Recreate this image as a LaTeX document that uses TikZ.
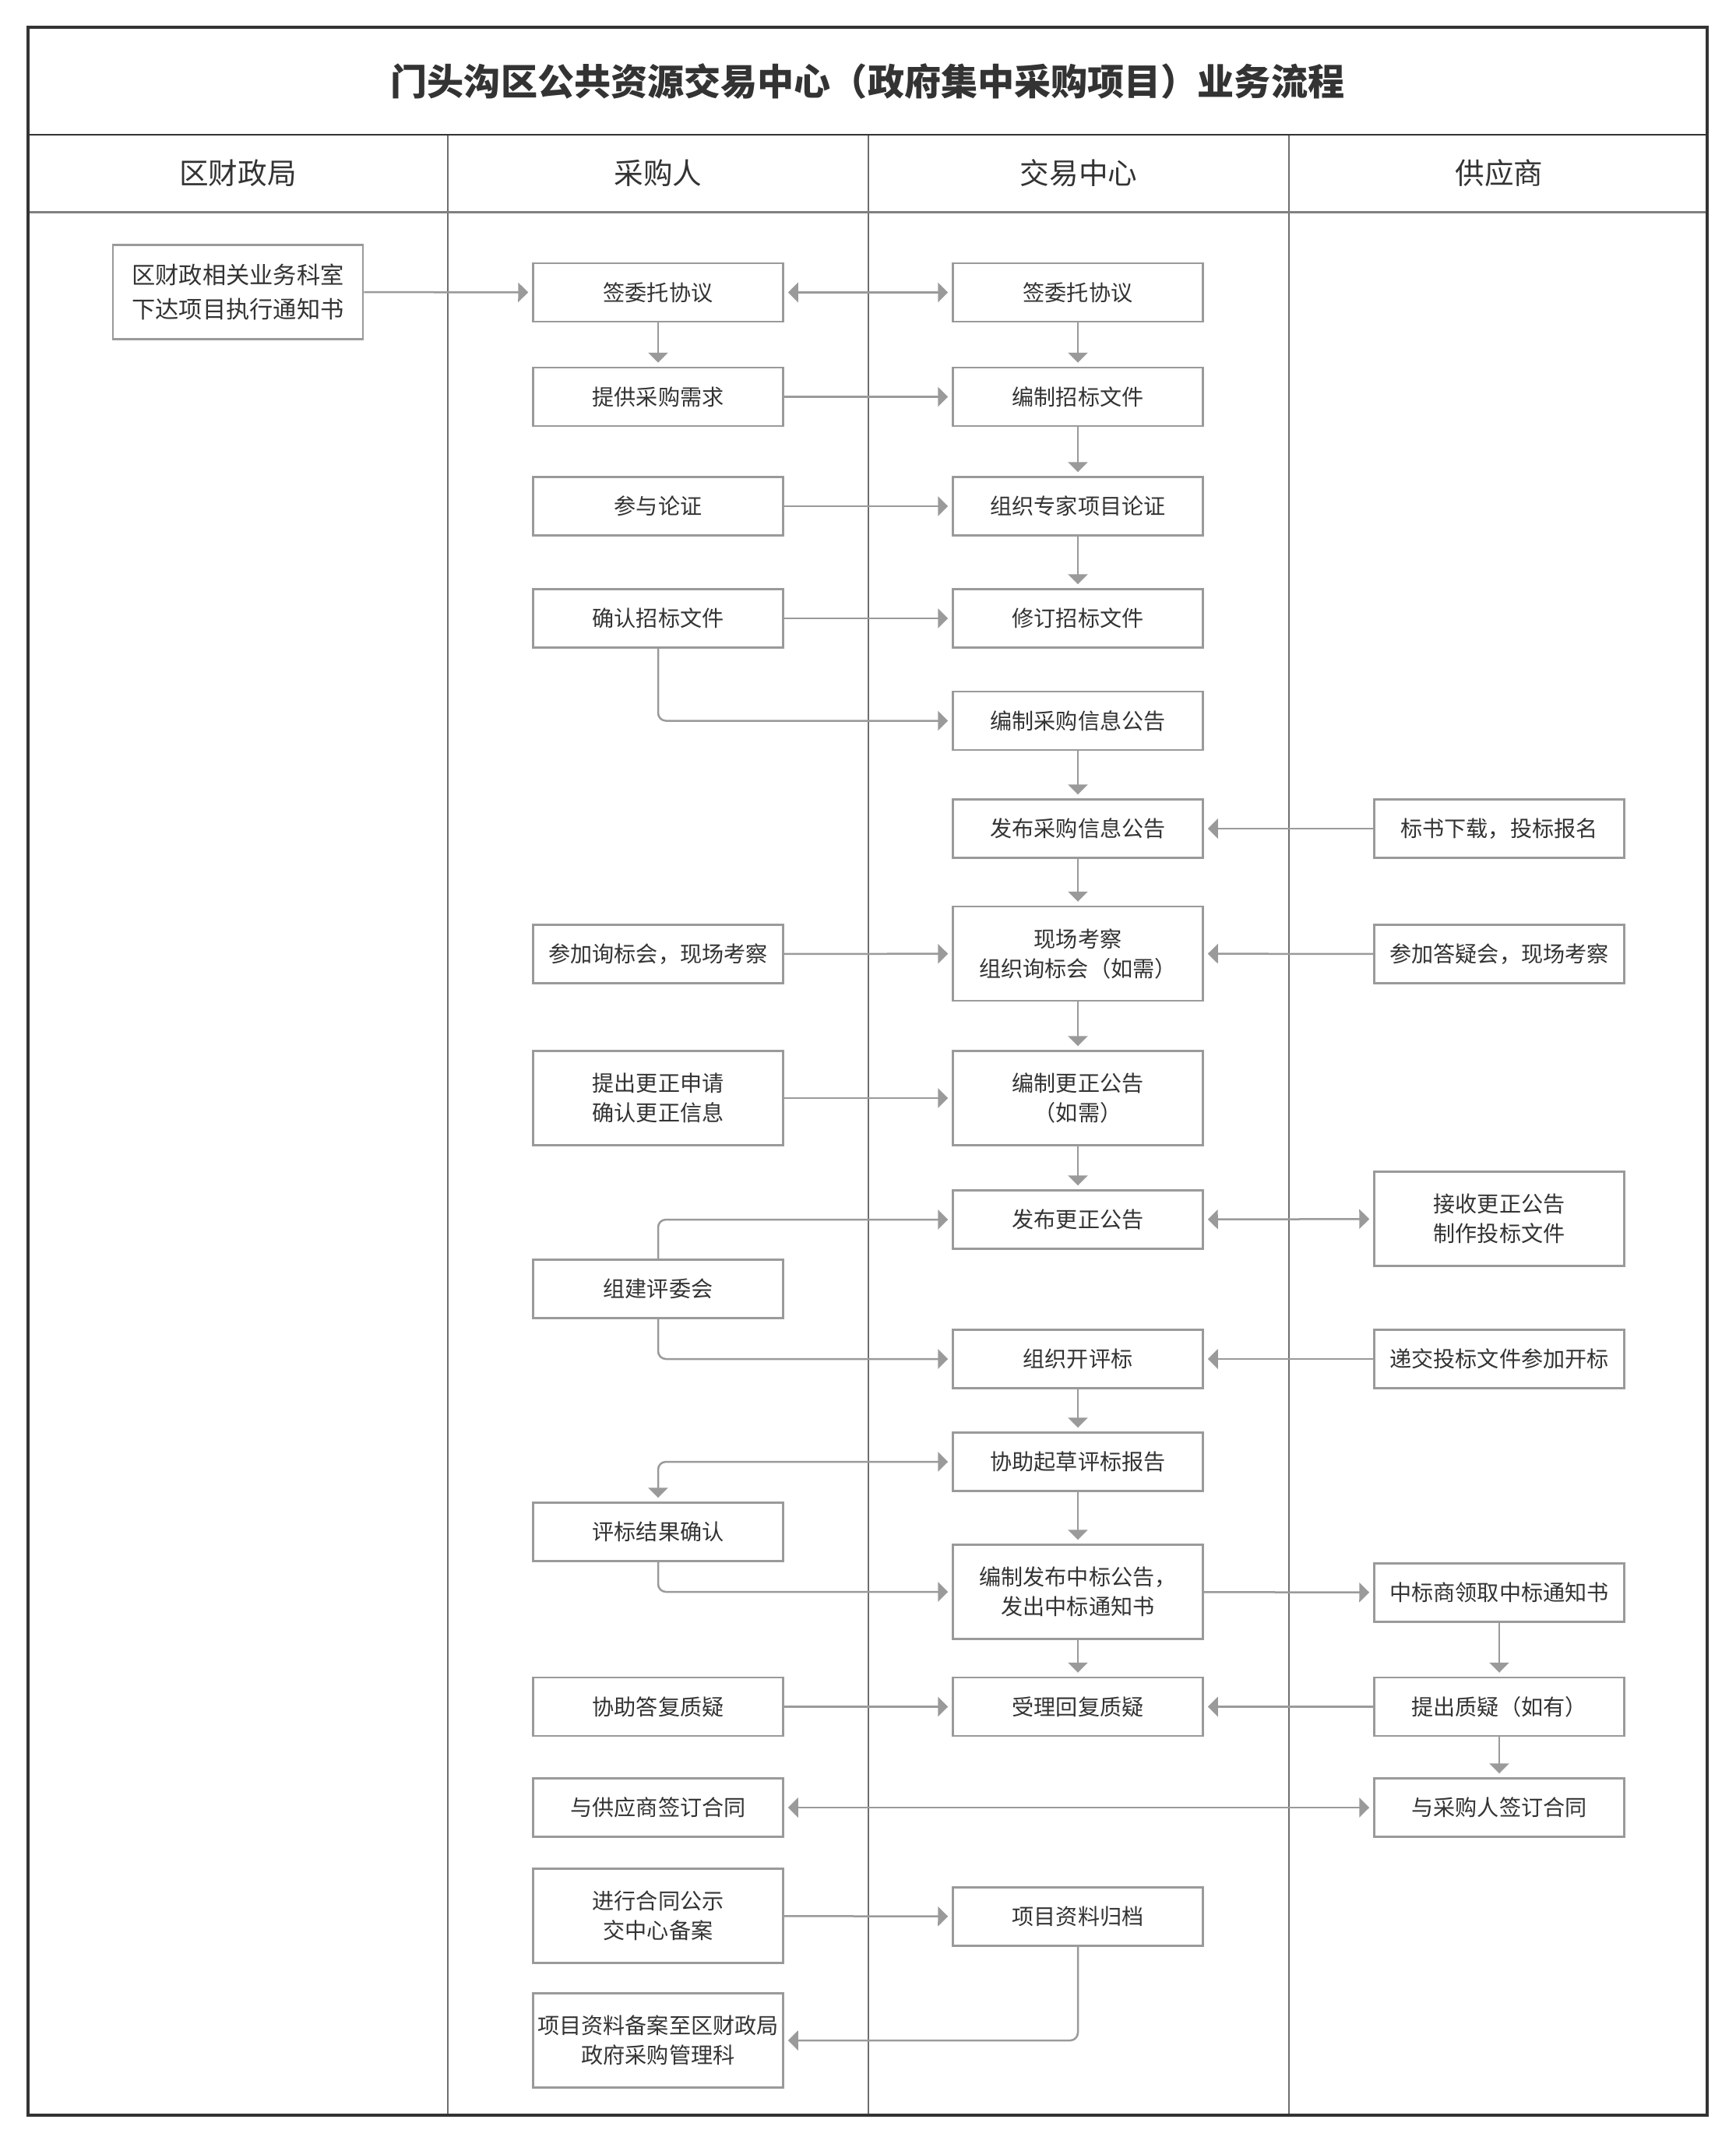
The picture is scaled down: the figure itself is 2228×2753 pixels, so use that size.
\documentclass[tikz,border=0pt]{standalone}
\usepackage{fontspec}
\setmainfont{Noto Sans CJK SC}
\usetikzlibrary{arrows.meta}
\definecolor{wenzi}{HTML}{333333}
\definecolor{xian}{HTML}{9A9A9A}
\definecolor{bian}{HTML}{333333}
\definecolor{fenge}{HTML}{6E6E6E}
\newcommand{\zi}{\fontsize{8pt}{10.8pt}\selectfont}

\begin{document}
\begin{tikzpicture}[x=0.1mm, y=-0.1mm]
	\tikzset{kuang/.style={draw=xian, line width=0.25mm, fill=white, minimum width=32.1mm, minimum height=7.5mm, inner sep=0pt, align=center, text=wenzi, font=\zi},
		gao/.style={minimum height=12.1mm},
		biaoti/.style={text=wenzi, font=\fontsize{10.7pt}{13pt}\selectfont},
		jiantou/.style={draw=xian, line width=0.25mm, -{Triangle[length=1.3mm, width=2.5mm]}, shorten >=0.5mm, rounded corners=1mm},
		shuang/.style={jiantou, {Triangle[length=1.3mm, width=2.5mm]}-{Triangle[length=1.3mm, width=2.5mm]}, shorten <=0.5mm}};

	\useasboundingbox (0,0) rectangle (2228,2753);

	% cadre et couloirs
	\draw[fenge, line width=0.2mm] ( 575, 173) -- ( 575,2716);
	\draw[fenge, line width=0.2mm] (1115, 173) -- (1115,2716);
	\draw[fenge, line width=0.2mm] (1655, 173) -- (1655,2716);
	\draw[bian, line width=0.25mm] (  36, 173) -- (2192, 173);
	\draw[gray, line width=0.3mm] (  36, 272) -- (2192, 272);
	\draw[bian, line width=0.4mm] (  36,  35) rectangle (2192,2716);

	\node[text=wenzi, font=\fontsize{13.4pt}{16pt}\selectfont\bfseries] (titre) at (1114, 104) {门头沟区公共资源交易中心（政府集中采购项目）业务流程};
	\node[biaoti] (h1) at ( 305.5, 222) {区财政局};
	\node[biaoti] (h2) at ( 845,   222) {采购人};
	\node[biaoti] (h3) at (1385,   222) {交易中心};
	\node[biaoti] (h4) at (1925,   222) {供应商};

	% 区财政局
	\node[kuang, gao, font=\fontsize{8.6pt}{12.3pt}\selectfont] (q1) at ( 305.5,  375) {区财政相关业务科室\\下达项目执行通知书};

	% 采购人
	\node[kuang]      (c1)  at ( 845,  375.5) {签委托协议};
	\node[kuang]      (c2)  at ( 845,  509.5) {提供采购需求};
	\node[kuang]      (c3)  at ( 845,  650) {参与论证};
	\node[kuang]      (c4)  at ( 845,  794) {确认招标文件};
	\node[kuang]      (c7)  at ( 845, 1225) {参加询标会，现场考察};
	\node[kuang, gao] (c8)  at ( 845, 1410) {提出更正申请\\确认更正信息};
	\node[kuang]      (c10) at ( 845, 1655) {组建评委会};
	\node[kuang]      (c13) at ( 845, 1967) {评标结果确认};
	\node[kuang]      (c15) at ( 845, 2191.5) {协助答复质疑};
	\node[kuang]      (c16) at ( 845, 2321) {与供应商签订合同};
	\node[kuang, gao] (c17) at ( 845, 2460) {进行合同公示\\交中心备案};
	\node[kuang, gao] (c18) at ( 845, 2620) {项目资料备案至区财政局\\政府采购管理科};

	% 交易中心
	\node[kuang]      (j1)  at (1384,  375.5) {签委托协议};
	\node[kuang]      (j2)  at (1384,  509.5) {编制招标文件};
	\node[kuang]      (j3)  at (1384,  650) {组织专家项目论证};
	\node[kuang]      (j4)  at (1384,  794) {修订招标文件};
	\node[kuang]      (j5)  at (1384,  925.5) {编制采购信息公告};
	\node[kuang]      (j6)  at (1384, 1064) {发布采购信息公告};
	\node[kuang, gao] (j7)  at (1384, 1224.5) {现场考察\\组织询标会（如需）};
	\node[kuang, gao] (j8)  at (1384, 1410) {编制更正公告\\（如需）};
	\node[kuang]      (j9)  at (1384, 1566) {发布更正公告};
	\node[kuang]      (j11) at (1384, 1745) {组织开评标};
	\node[kuang]      (j12) at (1384, 1877) {协助起草评标报告};
	\node[kuang, gao] (j14) at (1384, 2044) {编制发布中标公告，\\发出中标通知书};
	\node[kuang]      (j15) at (1384, 2191.5) {受理回复质疑};
	\node[kuang]      (j17) at (1384, 2461) {项目资料归档};

	% 供应商
	\node[kuang]      (g6)  at (1925, 1064) {标书下载，投标报名};
	\node[kuang]      (g7)  at (1925, 1225) {参加答疑会，现场考察};
	\node[kuang, gao] (g9)  at (1925, 1565) {接收更正公告\\制作投标文件};
	\node[kuang]      (g11) at (1925, 1745) {递交投标文件参加开标};
	\node[kuang]      (g14) at (1925, 2045) {中标商领取中标通知书};
	\node[kuang]      (g15) at (1925, 2191.5) {提出质疑（如有）};
	\node[kuang]      (g16) at (1925, 2321) {与采购人签订合同};

	% fleches
	\draw[jiantou] (q1) to (c1);
	\draw[shuang]  (c1) to (j1);
	\draw[jiantou] (c1) to (c2);
	\draw[jiantou] (j1) to (j2);
	\draw[jiantou] (c2) to (j2);
	\draw[jiantou] (j2) to (j3);
	\draw[jiantou] (c3) to (j3);
	\draw[jiantou] (j3) to (j4);
	\draw[jiantou] (c4) to (j4);
	\draw[jiantou] (c4.south) |- (j5.west);
	\draw[jiantou] (j5) to (j6);
	\draw[jiantou] (g6) to (j6);
	\draw[jiantou] (j6) to (j7);
	\draw[jiantou] (c7) to (j7);
	\draw[jiantou] (g7) to (j7);
	\draw[jiantou] (j7) to (j8);
	\draw[jiantou] (c8) to (j8);
	\draw[jiantou] (j8) to (j9);
	\draw[shuang]  (j9) to (g9);
	\draw[jiantou] (c10.north) |- (j9.west);
	\draw[jiantou] (c10.south) |- (j11.west);
	\draw[jiantou] (g11) to (j11);
	\draw[jiantou] (j11) to (j12);
	\draw[shuang]  (c13.north) |- (j12.west);
	\draw[jiantou] (j12) to (j14);
	\draw[jiantou] (c13.south) |- (j14.west);
	\draw[jiantou] (j14) to (g14);
	\draw[jiantou] (j14) to (j15);
	\draw[jiantou] (g14) to (g15);
	\draw[jiantou] (c15) to (j15);
	\draw[jiantou] (g15) to (j15);
	\draw[jiantou] (g15) to (g16);
	\draw[shuang]  (c16) to (g16);
	\draw[jiantou] (c17) to (j17);
	\draw[jiantou] (j17.south) |- (c18.east);

\end{tikzpicture}
\end{document}
